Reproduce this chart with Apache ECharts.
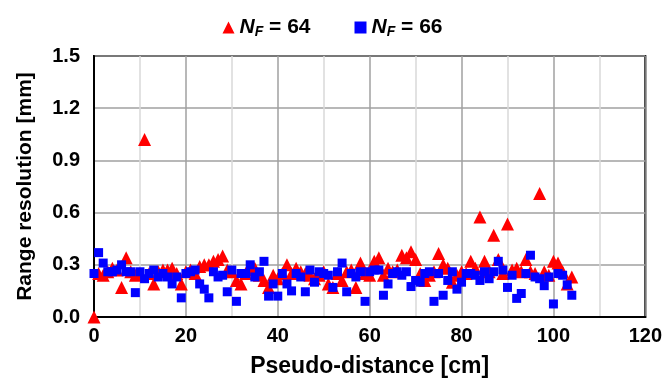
<!DOCTYPE html>
<html>
<head>
<meta charset="utf-8">
<script src="https://cdn.jsdelivr.net/npm/echarts@6/dist/echarts.min.js"></script>
<style>
  html, body { margin: 0; padding: 0; background: #fff; }
  #chart { width: 665px; height: 383px; }
</style>
</head>
<body>
<div id="chart"></div>
<script>
// pseudo-distance [cm] and range resolution [mm]
const xs64 = [0,1,2,3,4,5,6,7,8,9,10,11,12,13,14,15,16,17,18,19,20,21,22,23,24,25,26,27,28,29,30,31,32,33,34,35,36,37,38,39,40,41,42,43,44,45,46,47,48,49,50,51,52,53,54,55,56,57,58,59,60,61,62,63,64,65,66,67,68,69,70,71,72,73,74,75,76,77,78,79,80,81,82,83,84,85,86,87,88,89,90,91,92,93,94,95,96,97,98,99,100,101,102,103,104];
const res64 = [0.00,0.25,0.24,0.26,0.28,0.27,0.17,0.34,0.26,0.24,0.25,1.02,0.25,0.19,0.26,0.27,0.27,0.28,0.25,0.19,0.26,0.27,0.25,0.29,0.30,0.30,0.32,0.33,0.35,0.27,0.26,0.21,0.19,0.25,0.27,0.28,0.24,0.21,0.17,0.24,0.22,0.25,0.30,0.25,0.28,0.26,0.25,0.24,0.22,0.24,0.26,0.19,0.17,0.25,0.21,0.26,0.27,0.17,0.31,0.25,0.24,0.32,0.34,0.24,0.28,0.26,0.27,0.355,0.34,0.375,0.33,0.25,0.21,0.24,0.26,0.365,0.30,0.28,0.20,0.24,0.26,0.25,0.32,0.28,0.575,0.32,0.26,0.47,0.33,0.25,0.535,0.27,0.28,0.26,0.33,0.26,0.25,0.71,0.26,0.24,0.32,0.31,0.26,0.19,0.23];

const xs66 = [0,1,2,3,4,5,6,7,8,9,10,11,12,13,14,15,16,17,18,19,20,21,22,23,24,25,26,27,28,29,30,31,32,33,34,35,36,37,38,39,40,41,42,43,44,45,46,47,48,49,50,51,52,53,54,55,56,57,58,59,60,61,62,63,64,65,66,67,68,69,70,71,72,73,74,75,76,77,78,79,80,81,82,83,84,85,86,87,88,89,90,91,92,93,94,95,96,97,98,99,100,101,102,103,104];
const res66 = [0.25,0.37,0.31,0.26,0.26,0.27,0.30,0.26,0.26,0.14,0.26,0.22,0.25,0.27,0.23,0.25,0.23,0.19,0.23,0.11,0.25,0.26,0.27,0.19,0.16,0.11,0.26,0.23,0.24,0.145,0.27,0.09,0.25,0.25,0.30,0.23,0.26,0.32,0.12,0.19,0.12,0.25,0.19,0.15,0.25,0.23,0.145,0.27,0.20,0.26,0.25,0.24,0.17,0.26,0.31,0.145,0.25,0.23,0.26,0.09,0.26,0.27,0.27,0.125,0.19,0.25,0.26,0.24,0.26,0.175,0.21,0.20,0.25,0.26,0.09,0.25,0.125,0.21,0.26,0.16,0.20,0.25,0.25,0.24,0.21,0.26,0.22,0.26,0.32,0.27,0.17,0.24,0.107,0.135,0.25,0.355,0.23,0.22,0.18,0.23,0.075,0.25,0.24,0.185,0.125];

const xTicks = [0, 20, 40, 60, 80, 100, 120];
const yTicks = [0.0, 0.3, 0.6, 0.9, 1.2, 1.5];

const chart = echarts.init(document.getElementById('chart'));

const labelFont = 'Liberation Sans, Arial, sans-serif';

const legendRich = {
  i: { fontFamily: labelFont, fontStyle: 'italic', fontWeight: 'bold', fontSize: 21, color: '#000' },
  s: { fontFamily: labelFont, fontStyle: 'italic', fontWeight: 'bold', fontSize: 14, color: '#000', padding: [10, 0, 0, 0] },
  n: { fontFamily: labelFont, fontWeight: 'bold', fontSize: 21, color: '#000' }
};

const option = {
  animation: false,
  backgroundColor: '#fff',
  legend: {
    top: 12,
    left: 'center',
    itemGap: 44,
    itemWidth: 12,
    itemHeight: 12,
    data: [
      { name: '64', icon: 'triangle', itemStyle: { color: '#ff0000' } },
      { name: '66', icon: 'rect', itemStyle: { color: '#0000ff' }, itemWidth: 9, itemHeight: 9 }
    ],
    formatter: name => '{i|N}{s|F}{n| = ' + name + '}',
    textStyle: { rich: legendRich }
  },
  grid: {
    left: 94,
    right: 17,
    top: 56,
    bottom: 66,
    show: true,
    borderColor: '#000',
    borderWidth: 2,
    backgroundColor: 'transparent'
  },
  xAxis: {
    type: 'value',
    min: xTicks[0],
    max: xTicks[xTicks.length - 1],
    interval: 20,
    name: 'Pseudo-distance [cm]',
    nameLocation: 'middle',
    nameGap: 38,
    nameTextStyle: { fontFamily: labelFont, fontWeight: 'bold', fontSize: 23, color: '#000' },
    axisLine: { show: true, lineStyle: { color: '#000', width: 2 } },
    axisTick: { show: false },
    axisLabel: { fontFamily: labelFont, fontWeight: 'bold', fontSize: 20, color: '#000', margin: 9 },
    splitLine: { show: true, lineStyle: { color: '#a0a0a0', width: 1.5 } },
    minorTick: { show: false, splitNumber: 2 },
    minorSplitLine: { show: true, lineStyle: { color: '#d9d9d9', width: 1.5 } }
  },
  yAxis: {
    type: 'value',
    min: yTicks[0],
    max: yTicks[yTicks.length - 1],
    interval: 0.3,
    name: 'Range resolution [mm]',
    nameLocation: 'middle',
    nameGap: 58,
    nameTextStyle: { fontFamily: labelFont, fontWeight: 'bold', fontSize: 21, color: '#000' },
    axisLine: { show: true, lineStyle: { color: '#000', width: 2 } },
    axisTick: { show: false },
    axisLabel: {
      fontFamily: labelFont, fontWeight: 'bold', fontSize: 20, color: '#000', margin: 14,
      formatter: v => v.toFixed(1)
    },
    splitLine: { show: true, lineStyle: { color: '#a0a0a0', width: 1.5 } }
  },
  series: [
    {
      name: '64',
      type: 'scatter',
      symbol: 'triangle',
      symbolSize: 13,
      itemStyle: { color: '#ff0000', opacity: 1 },
      data: xs64.map((x, i) => [x, res64[i]]),
      z: 2
    },
    {
      name: '66',
      type: 'scatter',
      symbol: 'rect',
      symbolSize: 9,
      itemStyle: { color: '#0000ff', opacity: 1 },
      data: xs66.map((x, i) => [x, res66[i]]),
      z: 3
    }
  ]
};

chart.setOption(option);
</script>
</body>
</html>
